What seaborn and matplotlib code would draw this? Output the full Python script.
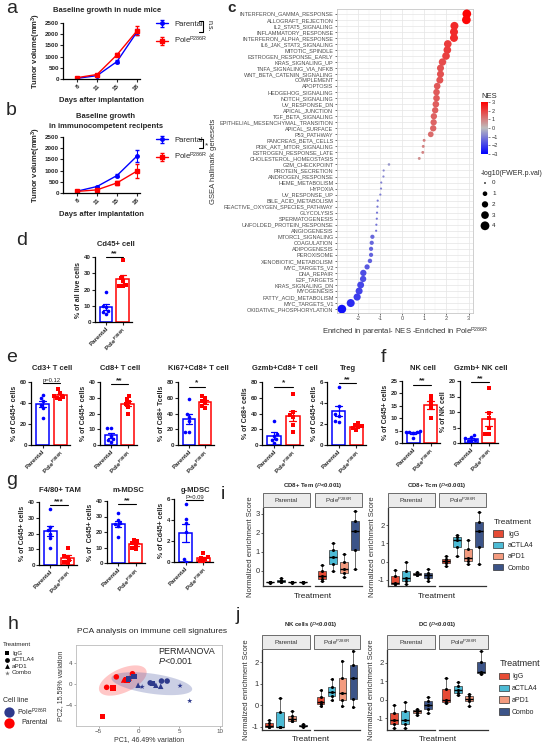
import numpy as np
import pandas as pd
import matplotlib
matplotlib.use('Agg')
import matplotlib.pyplot as plt
import seaborn as sns
from matplotlib.colors import LinearSegmentedColormap, Normalize
from matplotlib.cm import ScalarMappable
from matplotlib.patches import Rectangle, Patch
from matplotlib.lines import Line2D
import warnings
warnings.filterwarnings('ignore')

# ---------------- data ----------------
days = [8, 11, 15, 18]
nude_parental = [30, 150, 780, 2100]
nude_parental_sem = [20, 25, 60, 150]
nude_pole = [60, 200, 1080, 2150]
nude_pole_sem = [20, 30, 70, 200]
immuno_parental = [80, 290, 780, 1650]
immuno_parental_sem = [15, 30, 80, 250]
immuno_pole = [70, 140, 450, 980]
immuno_pole_sem = [15, 25, 100, 300]

gsea_sets = ['INTERFERON_GAMMA_RESPONSE', 'ALLOGRAFT_REJECTION', 'IL2_STAT5_SIGNALING',
             'INFLAMMATORY_RESPONSE', 'INTERFERON_ALPHA_RESPONSE', 'IL6_JAK_STAT3_SIGNALING',
             'MITOTIC_SPINDLE', 'ESTROGEN_RESPONSE_EARLY', 'KRAS_SIGNALING_UP',
             'TNFA_SIGNALING_VIA_NFKB', 'WNT_BETA_CATENIN_SIGNALING', 'COMPLEMENT', 'APOPTOSIS',
             'HEDGEHOG_SIGNALING', 'NOTCH_SIGNALING', 'UV_RESPONSE_DN', 'APICAL_JUNCTION',
             'TGF_BETA_SIGNALING', 'EPITHELIAL_MESENCHYMAL_TRANSITION', 'APICAL_SURFACE',
             'P53_PATHWAY', 'PANCREAS_BETA_CELLS', 'PI3K_AKT_MTOR_SIGNALING',
             'ESTROGEN_RESPONSE_LATE', 'CHOLESTEROL_HOMEOSTASIS', 'G2M_CHECKPOINT',
             'PROTEIN_SECRETION', 'ANDROGEN_RESPONSE', 'HEME_METABOLISM', 'HYPOXIA',
             'UV_RESPONSE_UP', 'BILE_ACID_METABOLISM', 'REACTIVE_OXYGEN_SPECIES_PATHWAY',
             'GLYCOLYSIS', 'SPERMATOGENESIS', 'UNFOLDED_PROTEIN_RESPONSE', 'ANGIOGENESIS',
             'MTORC1_SIGNALING', 'COAGULATION', 'ADIPOGENESIS', 'PEROXISOME',
             'XENOBIOTIC_METABOLISM', 'MYC_TARGETS_V2', 'DNA_REPAIR', 'E2F_TARGETS',
             'KRAS_SIGNALING_DN', 'MYOGENESIS', 'FATTY_ACID_METABOLISM', 'MYC_TARGETS_V1',
             'OXIDATIVE_PHOSPHORYLATION']
gsea_nes = [2.92, 2.90, 2.36, 2.34, 2.34, 2.06, 2.04, 1.98, 1.82, 1.73, 1.73, 1.70, 1.58,
            1.55, 1.55, 1.52, 1.49, 1.43, 1.42, 1.40, 1.29, 0.99, 0.95, 0.93, 0.77, -0.60,
            -0.84, -0.85, -0.95, -0.96, -0.99, -1.11, -1.12, -1.14, -1.15, -1.17, -1.18,
            -1.35, -1.38, -1.41, -1.41, -1.46, -1.59, -1.76, -1.77, -1.88, -1.95, -2.04,
            -2.33, -2.73]
gsea_logp = [3.9, 3.9, 3.3, 3.3, 3.3, 3.0, 3.0, 3.0, 2.8, 2.5, 2.5, 2.5, 2.2, 2.2, 2.2, 2.2,
             2.0, 2.0, 2.0, 2.0, 1.6, 0.3, 0.3, 0.3, 0.3, 0.2, 0.1, 0.1, 0.1, 0.1, 0.1, 0.1,
             0.1, 0.1, 0.1, 0.1, 0.1, 0.8, 0.8, 0.8, 0.8, 0.9, 1.3, 2.0, 2.0, 2.4, 2.5, 2.6,
             3.3, 3.9]

cd45_par = [18.5, 10, 9, 7, 6, 5]
cd45_pole = [38, 27, 25, 23, 22, 22]
cd3_par = [48, 45, 42, 38, 35, 26]
cd3_pole = [53, 50, 47, 46, 45, 44]
cd8_par = [11, 11, 6, 4, 3, 2]
cd8_pole = [31, 29, 27, 26, 24, 20]
ki67_par = [58, 40, 36, 30, 17, 16]
ki67_pole = [62, 60, 56, 53, 50, 47]
gzmb_par = [30, 14, 12, 8, 6, 2]
gzmb_pole = [65, 42, 38, 35, 25, 17]
treg_par = [5.5, 3.7, 3.0, 2.8, 2.3, 2.2]
treg_pole = [2.1, 1.9, 1.8, 1.7, 1.6, 1.4]
nk_par = [4.8, 4.6, 4.5, 4.3, 4.2, 2.0]
nk_pole = [19, 17.5, 16, 14.5, 10]
gzmbnk_par = [2.5, 1.8, 1.5, 1.0, 0.8, 0.5]
gzmbnk_pole = [17.8, 9.7, 8.0, 5.0, 3.0, 2.8]
tam_par = [35.5, 24, 22, 20, 17, 11]
tam_pole = [11, 6, 5, 3, 2, 1]
mmdsc_par = [32, 28, 26, 25, 24, 16.5]
mmdsc_pole = [15, 14, 13, 12, 10, 9]
gmdsc_par = [5.5, 4.1, 3.7, 2.9, 0.3, 0.0]
gmdsc_pole = [0.9, 0.5, 0.4, 0.3, 0.1, 0.0]

pca_pc1 = [-4.5, -3.2, -1.5, -4.0, -2.8, -0.8, -1.9, -1.2,
           -1.3, -0.6, 1.7, 1.4, 2.8, 3.5, -0.1, 2.1, 2.7, 0.4, 5.1, 6.3]
pca_pc2 = [-6.2, -0.7, 0.8, -0.6, 1.4, 2.0, 0.8, 1.2,
           1.0, 1.5, 0.1, 0.25, 0.6, 0.6, -0.2, -0.2, -0.4, -0.5, -0.3, -3.2]
pca_line = ['Parental'] * 8 + ['Pole'] * 12
pca_treat = ['IgG', 'IgG', 'IgG', 'aCTLA4', 'aCTLA4', 'aCTLA4', 'aPD1', 'aPD1',
             'IgG', 'IgG', 'IgG', 'aCTLA4', 'aCTLA4', 'aCTLA4', 'aPD1', 'aPD1', 'aPD1',
             'Combo', 'Combo', 'Combo']

treatments = ['IgG', 'aCTLA4', 'aPD1', 'Combo']
tem_parental = [[-0.62, -0.61, -0.6, -0.6, -0.58], [-0.6, -0.57, -0.52, -0.5, -0.38],
                [-0.62, -0.61, -0.6, -0.6, -0.59], [-0.62, -0.61, -0.6, -0.6, -0.59]]
tem_pole = [[-0.53, -0.42, -0.3, -0.03, 0.32], [0.0, 0.35, 0.75, 1.1, 1.46],
            [-0.33, -0.12, 0.1, 0.46, 0.88], [0.09, 1.1, 2.07, 2.6, 3.16]]
tcm_parental = [[-1.22, -1.2, -1.15, -0.8, -0.44], [-1.22, -1.04, -0.89, -0.49, -0.04],
                [-0.75, -0.72, -0.65, -0.6, -0.55], [-1.04, -0.89, -0.72, -0.64, -0.4]]
tcm_pole = [[-0.26, -0.09, 0.03, 0.15, 0.33], [0.33, 0.78, 1.2, 1.37, 1.46],
            [-0.13, 0.05, 0.2, 0.69, 1.2], [-0.13, 0.78, 1.69, 2.15, 2.73]]
nk_parental_nes = [[-1.04, -1.02, -0.96, -0.85, -0.69], [-1.04, -1.02, -1.0, -0.31, 0.34],
                   [-0.74, -0.72, -0.66, -0.51, -0.28], [-1.0, -0.99, -0.97, -0.92, -0.9]]
nk_pole_nes = [[-0.05, 0.03, 0.12, 0.38, 0.69], [0.23, 0.4, 0.59, 0.85, 1.19],
               [-0.05, 0.23, 0.55, 1.28, 2.04], [-0.08, 0.26, 1.28, 1.88, 2.5]]
dc_parental = [[-1.53, -1.3, -1.1, -0.69, -0.27], [-1.53, -1.3, -1.1, -0.59, -0.09],
               [-0.81, -0.69, -0.62, -0.55, -0.5], [-0.69, -0.49, -0.3, -0.05, 0.18]]
dc_pole = [[-0.14, -0.09, -0.03, 0.58, 1.2], [0.27, 0.4, 0.55, 0.76, 0.95],
           [-0.31, -0.05, 0.03, 0.2, 0.3], [1.4, 1.44, 1.5, 2.07, 2.65]]

# ---------------- style ----------------
sns.set_theme(style='white')
plt.rcParams['font.family'] = ['Liberation Sans', 'DejaVu Sans']
plt.rcParams['mathtext.fontset'] = 'custom'
plt.rcParams['mathtext.rm'] = 'Liberation Sans'
plt.rcParams['mathtext.it'] = 'Liberation Sans:italic'
plt.rcParams['mathtext.bf'] = 'Liberation Sans:bold'

BLUE = '#0000FF'
RED = '#FF0000'
POLE = 'Pole$^{\\mathregular{P286R}}$'
groups = ['Parental', 'Pole']
treat_colors = {'IgG': '#E64B35', 'aCTLA4': '#4DBBD5', 'aPD1': '#F39B7F', 'Combo': '#3C5488'}

W, H = 545, 750
fig = plt.figure(figsize=(W / 100, H / 100), dpi=100)


def rect(x0, y0, x1, y1):
    return [x0 / W, 1 - y1 / H, (x1 - x0) / W, (y1 - y0) / H]


def ftext(x, y, s, **kw):
    fig.text(x / W, 1 - y / H, s, **kw)


def fline(xs, ys, **kw):
    fig.add_artist(Line2D([x / W for x in xs], [1 - y / H for y in ys], **kw))


# panel letters
for lt, x, y in [('a', 6, 13), ('b', 6, 115), ('d', 16, 245), ('e', 6, 362), ('f', 381, 362),
                 ('g', 6, 485), ('h', 8, 629), ('i', 221, 499), ('j', 236, 620)]:
    ftext(x, y, lt, fontsize=14, va='baseline')
ftext(227, 12, 'c', fontsize=11, fontweight='bold', va='baseline')


# ---------------- a / b ----------------
def growth_panel(box, par, par_sem, pole, pole_sem, leg_y):
    ax = fig.add_axes(rect(*box))
    pos = np.arange(len(days))
    ax.errorbar(pos, par, yerr=par_sem, color=BLUE, marker='o', ms=2.5, lw=1,
                capsize=1.5, elinewidth=0.8, label='Parental')
    ax.errorbar(pos, pole, yerr=pole_sem, color=RED, marker='s', ms=2.5, lw=1,
                capsize=1.5, elinewidth=0.8, label=POLE)
    ax.set_xlim(-0.7, 3.15)
    ax.set_ylim(0, 2500)
    ax.set_yticks([0, 500, 1000, 1500, 2000, 2500])
    ax.set_yticklabels(['0', '500', '1000', '1500', '2000', '2500'], fontsize=4.5, fontweight='bold')
    ax.set_xticks(pos)
    ax.set_xticklabels([str(d) for d in days], rotation=45, ha='right', rotation_mode='anchor',
                       fontsize=4.5, fontweight='bold')
    ax.tick_params(length=2, width=0.8, pad=1, left=True, bottom=True)
    for s in ['top', 'right']:
        ax.spines[s].set_visible(False)
    for s in ['left', 'bottom']:
        ax.spines[s].set_linewidth(0.9)
        ax.spines[s].set_color('black')
    ax.set_ylabel('Tumor volume(mm$^{\\mathregular{3}}$)', fontsize=5.5, fontweight='bold', labelpad=1)
    ax.set_xlabel('Days after implantation', fontsize=5.5, fontweight='bold', labelpad=4)
    ax.legend(loc='upper left', bbox_to_anchor=(152 / W, 1 - leg_y / H), bbox_transform=fig.transFigure,
              frameon=False, fontsize=5.5, handlelength=1.6, labelspacing=0.9, borderpad=0)
    return ax


growth_panel((63, 23, 140, 79), nude_parental, nude_parental_sem, nude_pole, nude_pole_sem, 17)
ftext(107, 12, 'Baseline growth in nude mice', fontsize=5.5, fontweight='bold', ha='center', va='baseline')
growth_panel((63, 137, 140, 193), immuno_parental, immuno_parental_sem, immuno_pole,
             immuno_pole_sem, 133)
ftext(106, 118, 'Baseline growth', fontsize=5.5, fontweight='bold', ha='center', va='baseline')
ftext(106, 128, 'in immunocompetent recipents', fontsize=5.5, fontweight='bold', ha='center', va='baseline')
fline([199, 203, 203, 199], [21, 21, 32, 32], color='black', lw=0.8)
ftext(206, 26, 'n.s.', fontsize=5, rotation=-90, ha='left', va='center')
fline([199, 203, 203, 199], [139, 139, 148, 148], color='black', lw=0.8)
ftext(205, 146, '*', fontsize=6, ha='left', va='center')

# ---------------- c ----------------
nes_cmap = LinearSegmentedColormap.from_list('nes', ['#0000FF', '#BEBEBE', '#FF0000'])
axc = fig.add_axes(rect(337, 9, 473, 313))
df_c = pd.DataFrame({'set': gsea_sets, 'NES': gsea_nes, 'logp': gsea_logp})
sns.scatterplot(data=df_c, x='NES', y='set', hue='NES', palette=nes_cmap, hue_norm=(-3, 3),
                size='logp', sizes=(1.5, 40), size_norm=(0, 4), legend=False, edgecolor='none',
                linewidth=0, ax=axc, zorder=3)
axc.set_yticks(range(len(gsea_sets)))
axc.set_yticklabels(gsea_sets, fontsize=4, color='#4D4D4D')
axc.set_ylim(len(gsea_sets) - 0.35, -0.8)
axc.set_xlim(-2.95, 3.2)
axc.set_xticks([-2, -1, 0, 1, 2, 3])
axc.set_xticklabels(['-2', '-1', '0', '1', '2', '3'], fontsize=4, color='#4D4D4D')
axc.set_xticks(np.arange(-2.5, 3.5, 1), minor=True)
axc.grid(which='major', color='#E5E5E5', lw=0.5)
axc.grid(which='minor', axis='x', color='#F0F0F0', lw=0.3)
axc.set_axisbelow(True)
axc.tick_params(which='major', length=1.5, width=0.5, color='#333333', pad=1, left=True, bottom=True)
axc.tick_params(which='minor', length=0)
for s in axc.spines.values():
    s.set_color('#C8C8C8')
    s.set_linewidth(0.6)
axc.set_xlabel('Enriched in parental- NES -Enriched in Pole$^{\\mathregular{P286R}}$', fontsize=5.5,
               color='#333333', labelpad=3)
axc.set_ylabel('GSEA hallmark genesets', fontsize=5.5, color='#333333', labelpad=2)

cax = fig.add_axes(rect(481, 102, 488, 154))
cb = fig.colorbar(ScalarMappable(Normalize(-3, 3), nes_cmap), cax=cax)
cb.set_ticks([-3, -2, -1, 0, 1, 2, 3])
cb.ax.tick_params(labelsize=4, length=1.5, width=0.4, pad=1, colors='#333333')
cb.outline.set_visible(False)
ftext(481, 98, 'NES', fontsize=5.5, va='baseline')
ftext(481, 175, '-log10(FWER.p.val)', fontsize=5, va='baseline')
lax = fig.add_axes(rect(478, 178, 510, 232))
lax.set_xlim(478, 510)
lax.set_ylim(232, 178)
lax.axis('off')
for k, v in enumerate([0, 1, 2, 3, 4]):
    yy = 183 + k * 10.7
    lax.scatter([485], [yy], s=1.5 + v / 4 * 38.5, color='black', edgecolor='none')
    lax.text(492, yy, str(v), fontsize=4.5, va='center')


# ---------------- bar panels ----------------
def bar_panel(box, title, title_y, ylabel, ylim, yticks, par, pole, sig, sig_y, sig_small=False):
    ax = fig.add_axes(rect(*box))
    df = pd.DataFrame({'group': ['Parental'] * len(par) + ['Pole'] * len(pole), 'value': par + pole})
    for grp, col, mk in [('Parental', BLUE, 'o'), ('Pole', RED, 's')]:
        sub = df[df['group'] == grp]
        sns.barplot(data=sub, x='group', y='value', order=groups, errorbar='se', capsize=0.35,
                    fill=False, color=col, saturation=1, linewidth=1.1, width=0.75,
                    err_kws={'color': col, 'linewidth': 0.9}, ax=ax)
        sns.swarmplot(data=sub, x='group', y='value', order=groups, color=col, marker=mk,
                      size=2.6, linewidth=0, ax=ax, zorder=4)
    ax.set_xlim(-0.65, 1.55)
    ax.set_ylim(*ylim)
    ax.set_yticks(yticks)
    ax.set_yticklabels([str(t) for t in yticks], fontsize=4.5, fontweight='bold')
    ax.set_xticks([0, 1])
    ax.set_xticklabels(['Parental', POLE], rotation=45, ha='right', rotation_mode='anchor',
                       fontsize=4.5, fontweight='bold')
    ax.tick_params(length=2, width=0.8, pad=1, left=True, bottom=True)
    for s in ['top', 'right']:
        ax.spines[s].set_visible(False)
    for s in ['left', 'bottom']:
        ax.spines[s].set_linewidth(0.9)
        ax.spines[s].set_color('black')
    ax.set_xlabel('')
    ax.set_ylabel(ylabel, fontsize=5, fontweight='bold', labelpad=1)
    ftext((box[0] + box[2]) / 2 + 2, title_y, title, fontsize=5.5, fontweight='bold',
          ha='center', va='baseline')
    ax.plot([0, 1], [sig_y, sig_y], color='black', lw=0.8, clip_on=False)
    if sig_small:
        ax.text(0.5, sig_y, sig, ha='center', va='bottom', fontsize=4.2, clip_on=False)
    else:
        ax.text(0.5, sig_y, sig, ha='center', va='bottom', fontsize=6, fontweight='bold',
                clip_on=False)
    return ax


bar_panel((95, 257, 132, 322), 'Cd45+ cell', 246, '% of all live cells', (0, 40), [0, 10, 20, 30, 40],
          cd45_par, cd45_pole, '**', 40)
bar_panel((31, 382, 70, 445), 'Cd3+ T cell', 370, '% of Cd45+ cells', (0, 60), [0, 20, 40, 60],
          cd3_par, cd3_pole, 'p=0.12', 59, sig_small=True)
bar_panel((100, 382, 137, 445), 'Cd8+ T cell', 370, '% of Cd45+ cells', (0, 40), [0, 10, 20, 30, 40],
          cd8_par, cd8_pole, '**', 38.5)
bar_panel((178, 382, 214, 445), 'Ki67+Cd8+ T cell', 370, '% of Cd8+ Tcells', (0, 80), [0, 20, 40, 60, 80],
          ki67_par, ki67_pole, '*', 74)
bar_panel((262, 382, 303, 445), 'Gzmb+Cd8+ T cell', 370, '% of Cd8+ cells', (0, 80), [0, 20, 40, 60, 80],
          gzmb_par, gzmb_pole, '*', 74)
bar_panel((327, 382, 366, 445), 'Treg', 370, '% of Cd45+ cells', (0, 6), [0, 2, 4, 6],
          treg_par, treg_pole, '**', 5.9)
bar_panel((402, 381, 440, 443), 'NK cell', 370, '% of Cd45+ cells', (0, 25), [0, 5, 10, 15, 20, 25],
          nk_par, nk_pole, '**', 23.5)
bar_panel((460, 381, 498, 443), 'Gzmb+ NK cell', 370, '% of NK cell', (0, 20), [0, 5, 10, 15, 20],
          gzmbnk_par, gzmbnk_pole, '**', 19.6)
bar_panel((39, 502, 77, 565), 'F4/80+ TAM', 492, '% of Cd45+ cells', (0, 40), [0, 10, 20, 30, 40],
          tam_par, tam_pole, '***', 38)
bar_panel((107, 501, 145, 563), 'm-MDSC', 492, '% of  Cd45+ cells', (0, 40), [0, 10, 20, 30, 40],
          mmdsc_par, mmdsc_pole, '**', 38)
bar_panel((174, 499, 213, 562), 'g-MDSC', 492, '% of Cd45+ cells', (0, 6), [0, 2, 4, 6],
          gmdsc_par, gmdsc_pole, 'P=0.09', 5.9, sig_small=True)

# ---------------- h ----------------
axh = fig.add_axes(rect(76, 645, 222, 726))
t = np.linspace(0, 2 * np.pi, 200)
for (cx, cy), (ux, uy), (vx, vy), col, al in [((-2.0, 0.7), (2.9, 2.0), (-0.59, 2.1), '#FF0000', 0.22),
                                              ((1.6, 0.1), (5.0, -1.1), (0.17, 1.9), '#5563A8', 0.3)]:
    axh.fill(cx + ux * np.cos(t) + vx * np.sin(t), cy + uy * np.cos(t) + vy * np.sin(t),
             color=col, alpha=al, lw=0, zorder=1)
df_h = pd.DataFrame({'PC1': pca_pc1, 'PC2': pca_pc2, 'line': pca_line, 'treat': pca_treat})
sns.scatterplot(data=df_h, x='PC1', y='PC2', hue='line', style='treat',
                palette={'Parental': '#FF0000', 'Pole': '#2E3A8C'},
                markers={'IgG': 's', 'aCTLA4': 'o', 'aPD1': '^', 'Combo': '*'},
                s=16, linewidth=0, legend=False, ax=axh, zorder=3)
axh.set_xlim(-7.8, 10.3)
axh.set_ylim(-8, 7.5)
axh.set_xticks([-5, 0, 5, 10])
axh.set_yticks([-4, 0, 4])
axh.tick_params(labelsize=4.5, labelcolor='#4D4D4D', length=1.5, width=0.5, color='#888888',
                pad=1, left=True, bottom=True)
for s in axh.spines.values():
    s.set_color('#BBBBBB')
    s.set_linewidth(0.6)
axh.set_xlabel('PC1, 46.49% variation', fontsize=5, color='#333333', labelpad=1)
axh.set_ylabel('PC2, 15.59% variation', fontsize=5, color='#333333', labelpad=1)
ftext(152, 633, 'PCA analysis on immune cell signatures', fontsize=6, ha='center', va='baseline')
ftext(158, 654, 'PERMANOVA', fontsize=6.5, va='baseline')
ftext(158, 664, '$\\mathit{P}$<0.001', fontsize=6.5, va='baseline')

hl = fig.add_axes(rect(0, 640, 70, 730))
hl.set_xlim(0, 70)
hl.set_ylim(730, 640)
hl.axis('off')
hl.text(3, 645, 'Treatment', fontsize=4.5, va='center')
for k, (lab, mk) in enumerate([('IgG', 's'), ('aCTLA4', 'o'), ('aPD1', '^'), ('Combo', '*')]):
    yy = 653 + k * 6.6
    hl.scatter([7], [yy], marker=mk, s=12, color='black' if mk != '*' else '#777777', linewidth=0)
    hl.text(12, yy, lab, fontsize=4.5, va='center')
hl.text(3, 701, 'Cell line', fontsize=5, va='center')
hl.scatter([9], [712], s=55, color='#2E3A8C', linewidth=0)
hl.text(17, 712, POLE, fontsize=5, va='center')
hl.scatter([9], [723], s=55, color='#FF0000', linewidth=0)
hl.text(21, 723, 'Parental', fontsize=5, va='center')


# ---------------- i / j ----------------
def box_facets(boxes, strip, title, title_y, ylim, yticks, vals_par, vals_pole, xlab_y):
    axes = []
    for k, (bx, vals, lab) in enumerate(zip(boxes, [vals_par, vals_pole], ['Parental', POLE])):
        ax = fig.add_axes(rect(*bx))
        df = pd.DataFrame({'treat': [tr for tr, v in zip(treatments, vals) for _ in v],
                           'score': [x for v in vals for x in v]})
        sns.boxplot(data=df, x='treat', y='score', hue='treat', order=treatments, hue_order=treatments,
                    palette=treat_colors, saturation=1, width=0.7, whis=(0, 100), showfliers=False,
                    linewidth=0.5, linecolor='#333333', legend=False,
                    medianprops={'color': 'black', 'linewidth': 1.0}, ax=ax)
        sns.stripplot(data=df, x='treat', y='score', order=treatments, color='black', size=2.2,
                      jitter=False, ax=ax, zorder=4)
        ax.set_xlim(-0.6, 3.6)
        ax.set_ylim(*ylim)
        ax.set_xticks([])
        ax.set_xlabel('')
        ax.set_ylabel('')
        for s in ['top', 'right']:
            ax.spines[s].set_visible(False)
        ax.spines['bottom'].set_color('#333333')
        ax.spines['bottom'].set_linewidth(0.9)
        if k == 0:
            ax.set_yticks(yticks)
            ax.set_yticklabels([str(v) for v in yticks], fontsize=5.5, color='#333333')
            ax.tick_params(axis='y', length=1.5, width=0.5, pad=1, left=True)
            ax.spines['left'].set_color('#333333')
            ax.spines['left'].set_linewidth(0.9)
            ax.set_ylabel('Normalized enrichment Score', fontsize=5.5, color='#333333', labelpad=1)
        else:
            ax.set_yticks(yticks)
            ax.set_yticklabels([])
            ax.tick_params(axis='y', length=0)
            ax.spines['left'].set_visible(False)
        sh = (strip[1] - strip[0]) / (bx[3] - bx[1])
        ax.add_patch(Rectangle((0, 1 + 0.01), 1, sh, transform=ax.transAxes, facecolor='#EBEBEB',
                               edgecolor='#555555', lw=0.6, clip_on=False))
        ax.text(0.5, 1 + 0.01 + sh / 2, lab, transform=ax.transAxes, fontsize=4.5, ha='center',
                va='center', color='#333333')
        axes.append(ax)
    xc = (boxes[0][0] + boxes[1][2]) / 2
    ftext(xc, title_y, title, fontsize=4.3, fontweight='bold', ha='center', va='baseline')
    ftext(xc, xlab_y, 'Treatment', fontsize=6, ha='center', va='baseline', color='#222222')
    return axes


box_facets([(263, 508, 310, 586), (315, 508, 362, 586)], (494, 508), 'CD8+ Tem ($\\mathit{P}$<0.001)', 487,
           (-0.8, 3.3), [0, 1, 2, 3], tem_parental, tem_pole, 598)
box_facets([(388, 508, 435, 586), (439, 508, 486, 586)], (494, 508), 'CD8+ Tcm ($\\mathit{P}$<0.001)', 487,
           (-1.33, 2.93), [-1, 0, 1, 2], tcm_parental, tcm_pole, 598)
box_facets([(262, 650, 310, 730), (314, 650, 360, 730)], (636, 650), 'NK cells ($\\mathit{P}$<0.001)', 626,
           (-1.16, 2.56), [-1, 0, 1, 2], nk_parental_nes, nk_pole_nes, 741)
box_facets([(387, 650, 435, 730), (439, 650, 488, 730)], (636, 650), 'DC ($\\mathit{P}$<0.001)', 626,
           (-1.62, 2.69), [-1, 0, 1, 2], dc_parental, dc_pole, 741)

handles = [Patch(facecolor=treat_colors[tr], edgecolor='#333333', lw=0.5) for tr in treatments]
fig.legend(handles, treatments, loc='upper left', bbox_to_anchor=(490 / W, 1 - 516 / H), frameon=False,
           title='Treatment', fontsize=5, title_fontsize=6, handlelength=1.3, handleheight=1.0,
           labelspacing=0.55, borderpad=0, alignment='left')
fig.legend(handles, treatments, loc='upper left', bbox_to_anchor=(496 / W, 1 - 656 / H), frameon=False,
           title='Treatment', fontsize=5, title_fontsize=6.5, handlelength=1.3, handleheight=1.1,
           labelspacing=0.6, handletextpad=0.5, borderpad=0, alignment='left')

fig.savefig('out.png', dpi=100)
